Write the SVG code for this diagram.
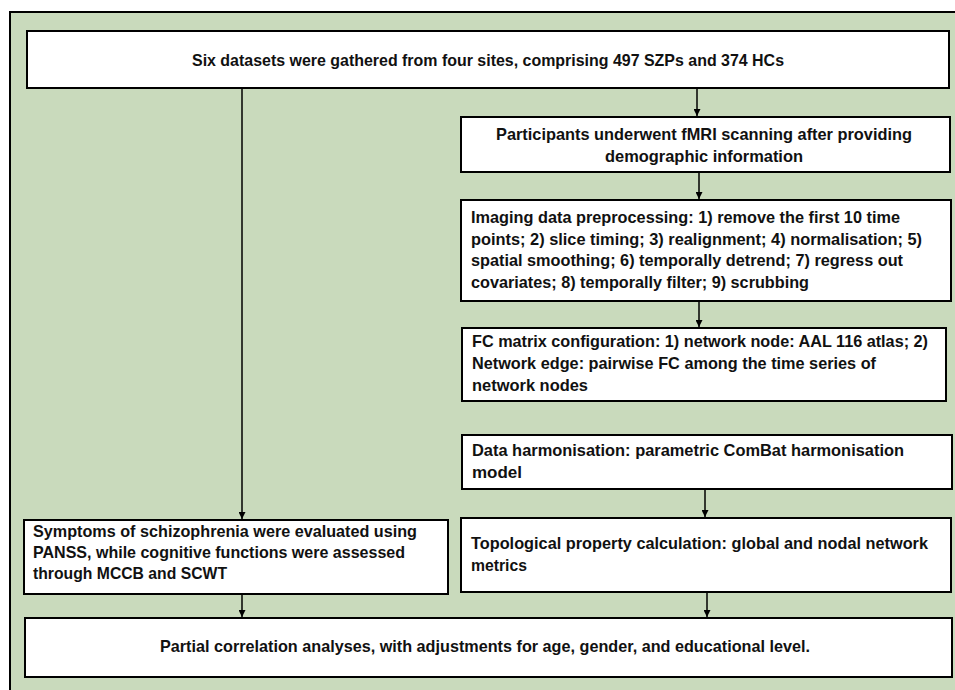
<svg xmlns="http://www.w3.org/2000/svg" width="955" height="690" viewBox="0 0 955 690">
  <defs>
    <marker id="arrow" markerUnits="userSpaceOnUse" markerWidth="8" markerHeight="7" refX="7" refY="3.5" orient="auto">
      <path d="M0,0 L7,3.5 L0,7 z" fill="#000"/>
    </marker>
  </defs>
  <style>
    .box { fill: #ffffff; stroke: #000000; stroke-width: 2; }
    .t { font-family: "Liberation Sans", Arial, sans-serif; font-weight: bold; font-size: 16.5px; fill: #111111; }
    .c { text-anchor: middle; }
    .conn { stroke: #000000; stroke-width: 1.5; fill: none; marker-end: url(#arrow); }
  </style>
  <rect x="0" y="0" width="955" height="690" fill="#ffffff"/>
  <rect id="panel" x="10" y="12" width="960" height="700" fill="#c9dabc" stroke="#000000" stroke-width="2"/>

  <g id="connectors">
    <line class="conn" x1="242" y1="88" x2="242" y2="519"/>
    <line class="conn" x1="697" y1="88" x2="697" y2="116"/>
    <line class="conn" x1="699" y1="172" x2="699" y2="199"/>
    <line class="conn" x1="699" y1="301" x2="699" y2="327"/>
    <line class="conn" x1="705" y1="489" x2="705" y2="517"/>
    <line class="conn" x1="242" y1="594" x2="242" y2="617"/>
    <line class="conn" x1="707" y1="592" x2="707" y2="617"/>
  </g>

  <g id="datasets">
    <rect class="box" x="27" y="31" width="922" height="57"/>
    <text class="t c" x="488" y="66" textLength="592" lengthAdjust="spacingAndGlyphs">Six datasets were gathered from four sites, comprising 497 SZPs and 374 HCs</text>
  </g>

  <g id="participants">
    <rect class="box" x="461" y="117" width="489" height="55"/>
    <text class="t c" x="704" y="140" textLength="416" lengthAdjust="spacingAndGlyphs">Participants underwent fMRI scanning after providing</text>
    <text class="t c" x="704" y="162" textLength="198" lengthAdjust="spacingAndGlyphs">demographic information</text>
  </g>

  <g id="preprocessing">
    <rect class="box" x="461" y="200" width="490" height="101"/>
    <text class="t" x="471" y="223" textLength="429" lengthAdjust="spacingAndGlyphs">Imaging data preprocessing: 1) remove the first 10 time</text>
    <text class="t" x="471" y="245" textLength="451" lengthAdjust="spacingAndGlyphs">points; 2) slice timing; 3) realignment; 4) normalisation; 5)</text>
    <text class="t" x="471" y="266" textLength="432" lengthAdjust="spacingAndGlyphs">spatial smoothing; 6) temporally detrend; 7) regress out</text>
    <text class="t" x="471" y="288" textLength="338" lengthAdjust="spacingAndGlyphs">covariates; 8) temporally filter; 9) scrubbing</text>
  </g>

  <g id="fc-matrix">
    <rect class="box" x="462" y="328" width="484" height="73"/>
    <text class="t" x="472" y="347" textLength="456" lengthAdjust="spacingAndGlyphs">FC matrix configuration: 1) network node: AAL 116 atlas; 2)</text>
    <text class="t" x="472" y="369" textLength="404" lengthAdjust="spacingAndGlyphs">Network edge: pairwise FC among the time series of</text>
    <text class="t" x="472" y="391" textLength="116" lengthAdjust="spacingAndGlyphs">network nodes</text>
  </g>

  <g id="harmonisation">
    <rect class="box" x="462" y="435" width="490" height="54"/>
    <text class="t" x="472" y="456" textLength="432" lengthAdjust="spacingAndGlyphs">Data harmonisation: parametric ComBat harmonisation</text>
    <text class="t" x="472" y="478" textLength="50" lengthAdjust="spacingAndGlyphs">model</text>
  </g>

  <g id="symptoms">
    <rect class="box" x="24" y="520" width="424" height="74"/>
    <text class="t" x="33" y="537" textLength="384" lengthAdjust="spacingAndGlyphs">Symptoms of schizophrenia were evaluated using</text>
    <text class="t" x="33" y="558" textLength="372" lengthAdjust="spacingAndGlyphs">PANSS, while cognitive functions were assessed</text>
    <text class="t" x="33" y="579" textLength="194" lengthAdjust="spacingAndGlyphs">through MCCB and SCWT</text>
  </g>

  <g id="topology">
    <rect class="box" x="461" y="518" width="490" height="74"/>
    <text class="t" x="471" y="549" textLength="457" lengthAdjust="spacingAndGlyphs">Topological property calculation: global and nodal network</text>
    <text class="t" x="471" y="571" textLength="56" lengthAdjust="spacingAndGlyphs">metrics</text>
  </g>

  <g id="partial-correlation">
    <rect class="box" x="25" y="618" width="927" height="59"/>
    <text class="t c" x="485" y="652" textLength="650" lengthAdjust="spacingAndGlyphs">Partial correlation analyses, with adjustments for age, gender, and educational level.</text>
  </g>
</svg>
